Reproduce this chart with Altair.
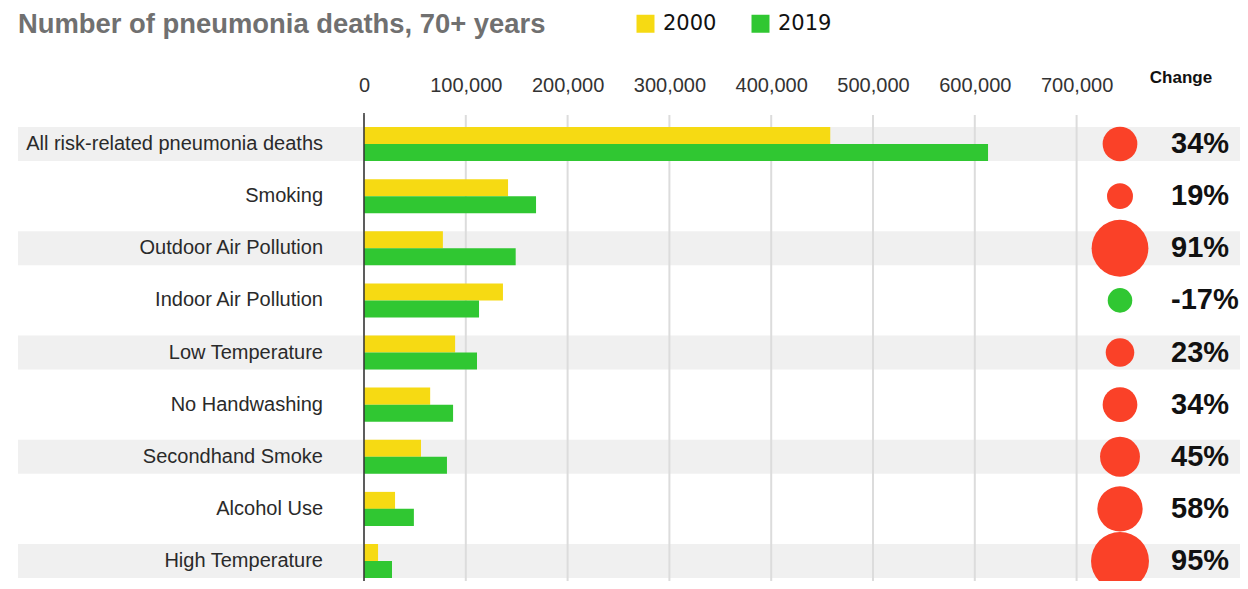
import altair as alt
import pandas as pd

# ---------------- data ----------------
categories = [
    "All risk-related pneumonia deaths",
    "Smoking",
    "Outdoor Air Pollution",
    "Indoor Air Pollution",
    "Low Temperature",
    "No Handwashing",
    "Secondhand Smoke",
    "Alcohol Use",
    "High Temperature",
]
deaths_2000 = [458000, 141500, 77500, 136500, 89500, 65000, 56000, 30500, 13800]
deaths_2019 = [613000, 169000, 149000, 113000, 111000, 87500, 81500, 49000, 27500]
change_pct = [34, 19, 91, -17, 23, 34, 45, 58, 95]
years = ["2000", "2019"]
tick_values = [0, 100000, 200000, 300000, 400000, 500000, 600000, 700000]

# ---------------- styling / layout ----------------
YELLOW = "#f6da13"
GREEN = "#30c732"
RED = "#fa4128"
BAND = "#f0f0f0"
GRID = "#dcdcdc"

PAD_L, PAD_T = 10, 107
W, H = 1222, 466
PX_PER_UNIT = 101.8 / 100000.0
ZERO_PX = 364 - 8 - PAD_L          # zero position inside plot area
X_LO = -ZERO_PX / PX_PER_UNIT
X_HI = (W - ZERO_PX) / PX_PER_UNIT

bars_df = pd.DataFrame({
    "cat": categories * 2,
    "year": [years[0]] * len(categories) + [years[1]] * len(categories),
    "value": deaths_2000 + deaths_2019,
})
rows_df = pd.DataFrame({
    "cat": categories,
    "idx": list(range(len(categories))),
    "change": change_pct,
})
ticks_df = pd.DataFrame({"v": tick_values})

x_scale = alt.Scale(domain=[X_LO, X_HI], nice=False, zero=False)
x_axis = alt.Axis(
    orient="top", values=tick_values, format=",d", title=None,
    labelExpr="format(datum.value, ',')",
    labelFontSize=20, labelFont="Liberation Sans", labelColor="#333",
    grid=False, domain=False, ticks=False, tickSize=0, labelPadding=20,
)

y_enc = alt.Y(
    "cat:N",
    sort=categories,
    axis=None,
    scale=alt.Scale(domain=categories, paddingInner=0.3477,
                    paddingOuter=0.1439, align=0.8),
)

bands = (
    alt.Chart(rows_df)
    .transform_filter("datum.idx % 2 == 0")
    .mark_rect(color=BAND)
    .encode(x=alt.value(0), x2=alt.value(W), y=y_enc)
)

grid = (
    alt.Chart(ticks_df)
    .mark_rule(color=GRID, strokeWidth=2)
    .encode(x=alt.X("v:Q", scale=x_scale, axis=x_axis))
)

bars = (
    alt.Chart(bars_df)
    .mark_bar(opacity=1)
    .encode(
        x=alt.X("value:Q", scale=x_scale, axis=x_axis),
        y=y_enc,
        yOffset=alt.YOffset("year:N", sort=years,
                            scale=alt.Scale(paddingInner=0, paddingOuter=0)),
        color=alt.Color(
            "year:N",
            scale=alt.Scale(domain=years, range=[YELLOW, GREEN]),
            legend=alt.Legend(
                orient="none", legendX=617, legendY=-102, direction="horizontal",
                title=None, symbolType="square", symbolSize=324,
                symbolStrokeWidth=0, symbolOpacity=1,
                labelFontSize=21, labelFont="DejaVu Sans", labelColor="#111",
                labelFontWeight=500,
                labelOffset=7, columnPadding=33, padding=0,
            ),
        ),
    )
)

zero_rule = (
    alt.Chart(ticks_df)
    .transform_filter("datum.v == 0")
    .mark_rule(color="#333", strokeWidth=1.5)
    .encode(x=alt.X("v:Q", scale=x_scale, axis=x_axis),
            y=alt.value(-2), y2=alt.value(H))
)

labels = (
    alt.Chart(rows_df)
    .mark_text(align="right", baseline="middle", fontSize=20,
               font="Liberation Sans", color="#2a2a2a")
    .encode(x=alt.value(305), y=y_enc, text="cat:N")
)

circles = (
    alt.Chart(rows_df)
    .transform_calculate(abs_change="abs(datum.change)")
    .mark_circle(opacity=1)
    .encode(
        x=alt.value(1102),
        y=y_enc,
        size=alt.Size("abs_change:Q",
                      scale=alt.Scale(domain=[0, 95], range=[0, 3364]),
                      legend=None),
        color=alt.condition(alt.datum.change > 0, alt.value(RED), alt.value(GREEN)),
    )
)

pct = (
    alt.Chart(rows_df)
    .transform_calculate(label="datum.change + '%'")
    .mark_text(align="left", baseline="middle", fontSize=29,
               fontWeight="bold", font="Liberation Sans", color="#111")
    .encode(x=alt.value(1153), y=y_enc, text="label:N")
)

one = pd.DataFrame({"a": [0]})
change_hdr = (
    alt.Chart(one)
    .mark_text(text="Change", align="center", baseline="middle", fontSize=17,
               fontWeight="bold", font="Liberation Sans", color="#111")
    .encode(x=alt.value(1163), y=alt.value(-37))
)
title = (
    alt.Chart(one)
    .mark_text(text="Number of pneumonia deaths, 70+ years", align="left",
               baseline="alphabetic", fontSize=27.4, fontWeight="bold",
               font="Liberation Sans", color="#707070")
    .encode(x=alt.value(0), y=alt.value(-82))
)

chart = (
    alt.layer(bands, grid, bars, zero_rule, labels, circles, pct, change_hdr, title)
    .properties(
        width=W, height=H,
        padding={"left": PAD_L, "top": PAD_T, "right": 0, "bottom": 0},
        autosize=alt.AutoSizeParams(type="none"),
    )
    .configure_view(strokeWidth=0)
)

chart.save("out.html", embed_options={"renderer": "svg", "actions": False})
